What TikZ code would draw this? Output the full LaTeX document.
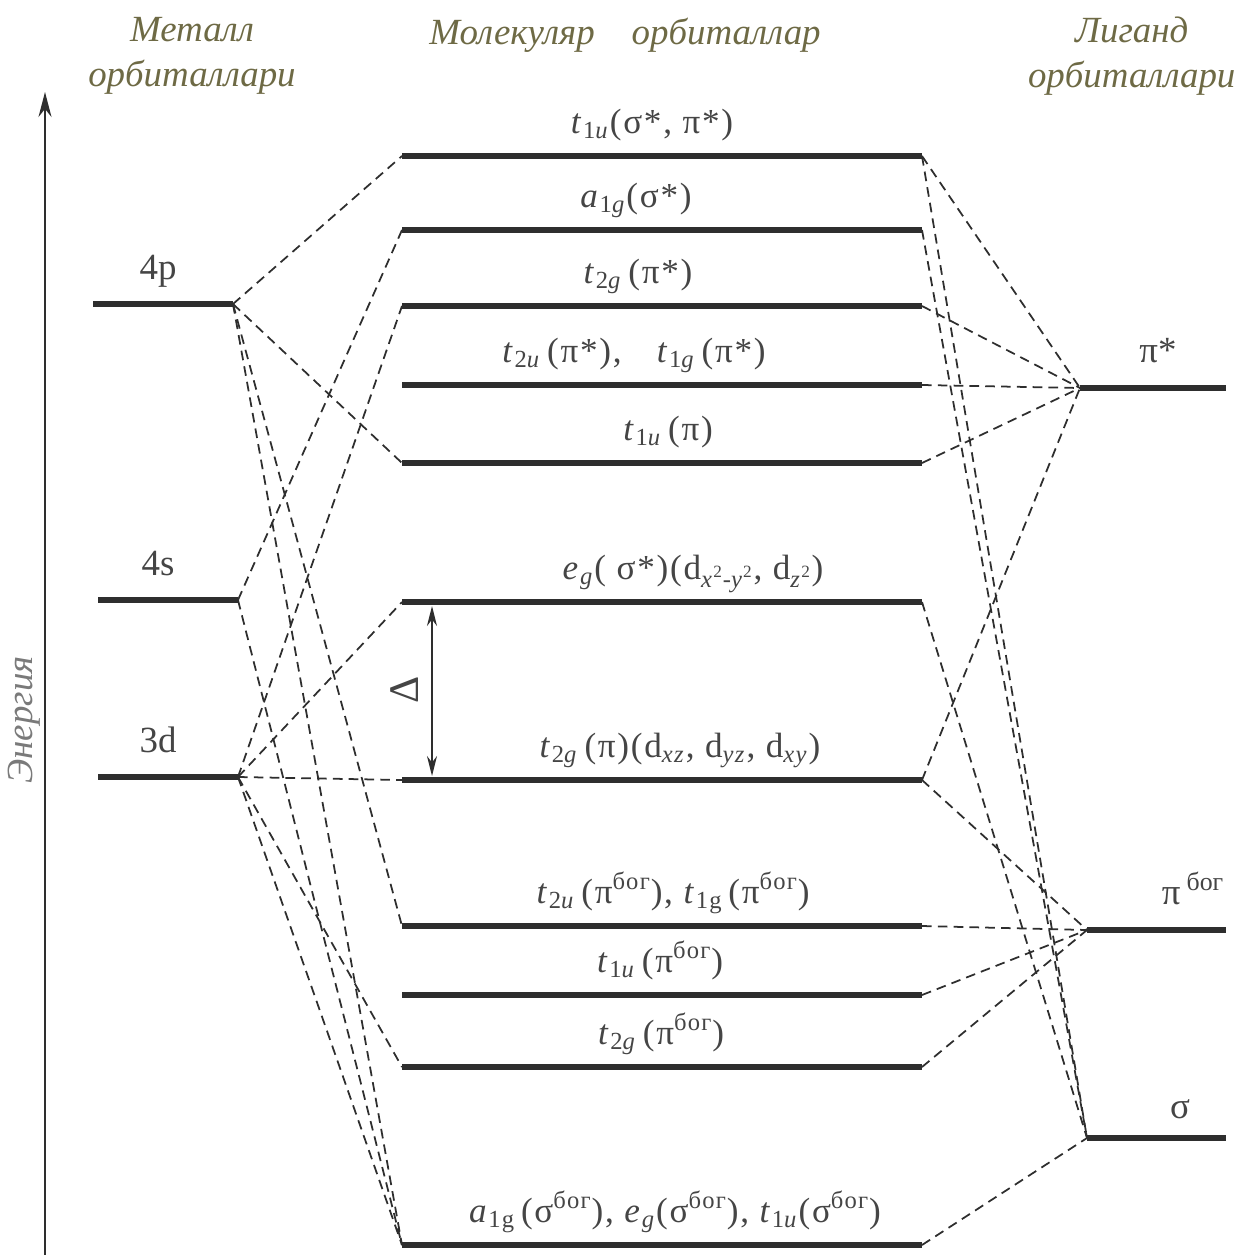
\documentclass[tikz,border=0pt]{standalone}
\usepackage{fontspec}
\setmainfont{Liberation Serif}
\usetikzlibrary{arrows.meta, positioning}
\definecolor{cline}{HTML}{2E2E2E}
\definecolor{ctext}{HTML}{454545}
\definecolor{ctitle}{HTML}{6E6A45}
\definecolor{cgrey}{HTML}{7A7A7A}
\newcommand{\lsub}[1]{\textsubscript{#1}}
\newcommand{\bog}{\textsuperscript{бог}}
\tikzset{
  every picture/.style={line width=0.8pt},
  level/.style={draw=cline, line width=3pt},
  link/.style={draw=cline, dash pattern=on 5.5pt off 3.5pt, line width=1pt},
  lab/.style={font=\fontsize{20}{24}\selectfont\addfontfeature{LetterSpace=5}, text=ctext, inner sep=1pt},
  big/.style={font=\fontsize{21}{24}\selectfont, text=ctext, inner sep=1pt},
  head/.style={font=\fontsize{21}{26}\selectfont\itshape, text=ctitle, align=center},
}

\begin{document}
\begin{tikzpicture}[x=0.02cm, y=-0.02cm]
  \useasboundingbox (0,0) rectangle (1249,1255);
  % titles
  \node[head] (tmet) at (192,56) {Металл\\орбиталлари};
  \node[head] (tmo) at (625,35) {Молекуляр\quad орбиталлар};
  \node[head, anchor=east] (tlig) at (1242,56) {Лиганд\\орбиталлари};
  % energy axis
  \coordinate (e0) at (45,1255);
  \coordinate (e1) at (45,92);
  \draw[-{Stealth[length=5mm, width=2.6mm]}, draw=cline, line width=1.1pt] (e0) -- (e1);
  \node[head, text=cgrey, rotate=90] (elab) at (24,720) {Энергия};

  % metal levels
  \foreach \n/\xa/\xb/\y/\t in {p4/93/233/304/4p, s4/98/238/600/4s, d3/98/238/777/3d} {
    \coordinate (l\n) at (\xa,\y);
    \coordinate (r\n) at (\xb,\y);
    \draw[level] (l\n) -- (r\n);
    \node[big, anchor=base] (t\n) at (158,\y-25) {\t};
  }

  % molecular levels
  \foreach \n/\y/\x/\t in {
    1/156/652/{\textit{t}\lsub{1\textit{u}}(σ*, π*)},
    2/230/636/{\textit{a}\lsub{1\textit{g}}(σ*)},
    3/306/638/{\textit{t}\lsub{2\textit{g}}\,(π*)},
    4/385/634/{\textit{t}\lsub{2\textit{u}}\,(π*),\quad \textit{t}\lsub{1\textit{g}}\,(π*)},
    5/463/668/{\textit{t}\lsub{1\textit{u}}\,(π)},
    6/602/693/{\textit{e}\lsub{\textit{g}}( σ*)(d\lsub{\textit{x}\textsuperscript{2}-\textit{y}\textsuperscript{2}}, d\lsub{\textit{z}\textsuperscript{2}})},
    7/780/680/{\textit{t}\lsub{2\textit{g}}\,(π)(d\lsub{\textit{xz}}, d\lsub{\textit{yz}}, d\lsub{\textit{xy}})},
    8/926/673/{\textit{t}\lsub{2\textit{u}}\,(π\bog), \textit{t}\lsub{1g}\,(π\bog)},
    9/995/660/{\textit{t}\lsub{1\textit{u}}\,(π\bog)},
    10/1067/661/{\textit{t}\lsub{2\textit{g}}\,(π\bog)},
    11/1245/675/{\textit{a}\lsub{1g}\,(σ\bog), \textit{e}\lsub{\textit{g}}(σ\bog), \textit{t}\lsub{1\textit{u}}(σ\bog)}} {
    \coordinate (lm\n) at (402,\y);
    \coordinate (rm\n) at (922,\y);
    \draw[level] (lm\n) -- (rm\n);
    \node[lab, anchor=base] (tm\n) at (\x,\y-23) {\t};
  }

  % ligand levels
  \foreach \n/\xa/\y in {pis/1080/388, pib/1087/930, sig/1087/1138} {
    \coordinate (l\n) at (\xa,\y);
    \coordinate (r\n) at (1226,\y);
    \draw[level] (l\n) -- (r\n);
  }
  \node[big, anchor=base] (tpis) at (1158,362) {π*};
  \node[big, anchor=base] (tpib) at (1193,904) {π\,\bog};
  \node[big, anchor=base] (tsig) at (1180,1118) {σ};

  % metal -- molecular
  \foreach \a/\b in {rp4/lm1, rp4/lm5, rp4/lm8, rp4/lm11, rs4/lm2, rs4/lm11,
                     rd3/lm3, rd3/lm6, rd3/lm7, rd3/lm10, rd3/lm11}
    \draw[link] (\a) -- (\b);
  % molecular -- ligand
  \foreach \a/\b in {rm1/lpis, rm3/lpis, rm4/lpis, rm5/lpis, rm7/lpis,
                     rm1/lsig, rm2/lsig, rm6/lsig, rm11/lsig,
                     rm7/lpib, rm8/lpib, rm9/lpib, rm10/lpib}
    \draw[link] (\a) -- (\b);

  % splitting
  \coordinate (dtop) at (432,606);
  \coordinate (dbot) at (432,776);
  \draw[{Stealth[length=4mm, width=2mm]}-{Stealth[length=4mm, width=2mm]}, draw=cline, line width=1pt] (dtop) -- (dbot);
  \node[big, rotate=90, font=\fontsize{24}{26}\selectfont] (dlab) at (405,690) {Δ};
\end{tikzpicture}
\end{document}
